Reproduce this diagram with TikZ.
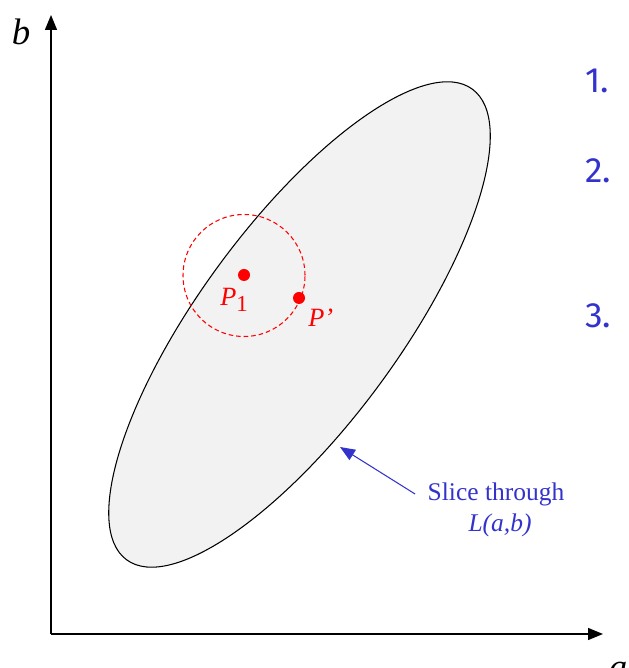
\documentclass[tikz,border=0pt]{standalone}
\usepackage{fontspec}
\setmainfont{Liberation Serif}
\newfontfamily\numfont{Fira Sans}
\usetikzlibrary{arrows.meta}
\definecolor{sliceblue}{RGB}{51,51,204}

\begin{document}
\begin{tikzpicture}[x=0.02cm, y=0.02cm,
		axis/.style={line width=0.8pt, -{Triangle[length=0.3cm, width=0.24cm]}},
		albl/.style={font=\fontsize{21}{25}\selectfont\itshape, inner sep=0pt},
		dot/.style={circle, fill=red, inner sep=0pt, minimum size=0.24cm},
		plbl/.style={text=red, font=\fontsize{15}{18}\selectfont, inner sep=0pt},
		slbl/.style={text=sliceblue, font=\fontsize{14.5}{15}\selectfont, inner xsep=7pt, inner ysep=0pt},
		num/.style={text=sliceblue, font=\numfont\fontsize{20}{24}\selectfont, anchor=west, inner sep=0pt}]
	
	\useasboundingbox (0,0) rectangle (628,668);
	
	%% ── axes ──
	\coordinate (O) at (51,34);
	\coordinate (ytip) at (51,653);
	\coordinate (xtip) at (603,34);
	\draw[axis] (O) -- (ytip);
	\draw[axis] (O) -- (xtip);
	\node[albl, anchor=base] (blbl) at (21,623) {b};
	\node[albl, anchor=base] (albl) at (618,-11) {a};
	
	%% ── likelihood slice ──
	\draw[line width=0.6pt, fill=black!5, rotate around={53.7:(299.5,343.5)}]
		(299.5,343.5) ellipse (292 and 100);
	\coordinate (edge) at (340,221);
	
	%% ── neighbourhood of P1 ──
	\draw[red, line width=0.6pt, dash pattern=on 2.6pt off 1.7pt] (244,392.5) circle (61);
	\node[dot] (P1) at (244,393) {};
	\node[dot] (Pp) at (299,370) {};
	\node[plbl, anchor=base west] (P1lbl) at (220,362) {\textit{P}\raisebox{-3pt}{\fontsize{13}{14}\selectfont 1}};
	\node[plbl, anchor=base west] (Pplbl) at (308,341) {\textit{P’}};
	
	%% ── label ──
	\node[slbl] (slice1) at (496,174) {Slice through};
	\node[slbl, below=2pt] (slice2) at (500,158) {\textit{L(a,b)}};
	\draw[sliceblue, line width=0.6pt, -{Triangle[length=0.3cm, width=0.24cm]}] (slice1.west) -- (edge);
	
	%% ── steps ──
	\node[num] (n1) at (585,587) {1.};
	\node[num] (n2) at (585,497) {2.};
	\node[num] (n3) at (585,352) {3.};
	
\end{tikzpicture}
\end{document}
